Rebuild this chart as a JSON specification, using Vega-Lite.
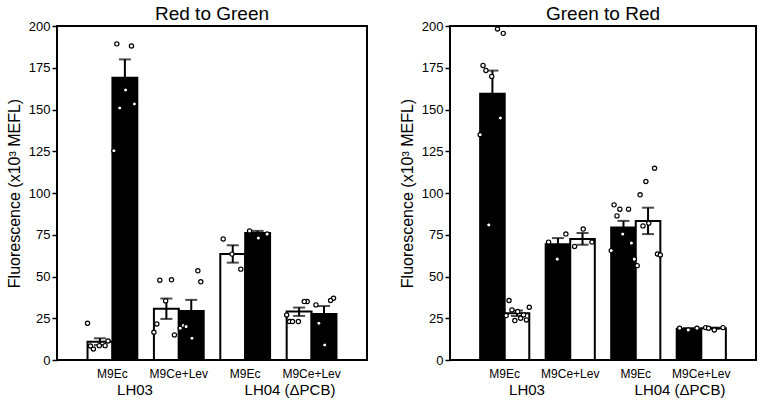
{
  "$schema": "https://vega.github.io/schema/vega-lite/v6.json",
  "padding": {"left": 5, "top": 4, "right": 4, "bottom": 0},
  "background": "white",
  "config": {
    "font": "Liberation Sans",
    "view": {"stroke": "black", "strokeWidth": 2},
    "axis": {"labelColor": "black", "titleColor": "black", "grid": false},
    "title": {"fontSize": 19, "fontWeight": "normal", "color": "black", "offset": -4}
  },
  "datasets": {
    "bars": [
      {"panel": "Red to Green", "group": "LH03|M9Ec", "strain": "LH03", "light": "Red", "mean": 11, "lo": 9, "hi": 13},
      {"panel": "Red to Green", "group": "LH03|M9Ec", "strain": "LH03", "light": "Green", "mean": 169, "lo": 158, "hi": 180},
      {"panel": "Red to Green", "group": "LH03|M9Ce+Lev", "strain": "LH03", "light": "Red", "mean": 30.7, "lo": 24.6, "hi": 36.8},
      {"panel": "Red to Green", "group": "LH03|M9Ce+Lev", "strain": "LH03", "light": "Green", "mean": 29.4, "lo": 23, "hi": 36},
      {"panel": "Red to Green", "group": "LH04|M9Ec", "strain": "LH04 (ΔPCB)", "light": "Red", "mean": 63.5, "lo": 58.3, "hi": 68.7},
      {"panel": "Red to Green", "group": "LH04|M9Ec", "strain": "LH04 (ΔPCB)", "light": "Green", "mean": 76, "lo": 74.7, "hi": 77.3},
      {"panel": "Red to Green", "group": "LH04|M9Ce+Lev", "strain": "LH04 (ΔPCB)", "light": "Red", "mean": 29, "lo": 26.4, "hi": 31.4},
      {"panel": "Red to Green", "group": "LH04|M9Ce+Lev", "strain": "LH04 (ΔPCB)", "light": "Green", "mean": 27.6, "lo": 23, "hi": 32.3},
      {"panel": "Green to Red", "group": "LH03|M9Ec", "strain": "LH03", "light": "Green", "mean": 159.5, "lo": 145.7, "hi": 173.3},
      {"panel": "Green to Red", "group": "LH03|M9Ec", "strain": "LH03", "light": "Red", "mean": 28, "lo": 26.4, "hi": 29.6},
      {"panel": "Green to Red", "group": "LH03|M9Ce+Lev", "strain": "LH03", "light": "Green", "mean": 69.3, "lo": 65.6, "hi": 73},
      {"panel": "Green to Red", "group": "LH03|M9Ce+Lev", "strain": "LH03", "light": "Red", "mean": 72.5, "lo": 69, "hi": 76},
      {"panel": "Green to Red", "group": "LH04|M9Ec", "strain": "LH04 (ΔPCB)", "light": "Green", "mean": 79.3, "lo": 75.3, "hi": 83.3},
      {"panel": "Green to Red", "group": "LH04|M9Ec", "strain": "LH04 (ΔPCB)", "light": "Red", "mean": 83.3, "lo": 75.4, "hi": 91.2},
      {"panel": "Green to Red", "group": "LH04|M9Ce+Lev", "strain": "LH04 (ΔPCB)", "light": "Green", "mean": 18.7, "lo": 18.3, "hi": 19.1},
      {"panel": "Green to Red", "group": "LH04|M9Ce+Lev", "strain": "LH04 (ΔPCB)", "light": "Red", "mean": 19, "lo": 18.6, "hi": 19.4}
    ],
    "points": [
      {"panel": "Red to Green", "group": "LH03|M9Ec", "sample": "Red-1", "value": 8.6},
      {"panel": "Red to Green", "group": "LH03|M9Ec", "sample": "Red-2", "value": 8.4},
      {"panel": "Red to Green", "group": "LH03|M9Ec", "sample": "Red-3", "value": 11.4},
      {"panel": "Red to Green", "group": "LH03|M9Ec", "sample": "Red-4", "value": 6.6},
      {"panel": "Red to Green", "group": "LH03|M9Ec", "sample": "Red-5", "value": 8.6},
      {"panel": "Red to Green", "group": "LH03|M9Ec", "sample": "Red-6", "value": 22},
      {"panel": "Red to Green", "group": "LH03|M9Ec", "sample": "Green-1", "value": 161.7},
      {"panel": "Red to Green", "group": "LH03|M9Ec", "sample": "Green-2", "value": 189.3},
      {"panel": "Red to Green", "group": "LH03|M9Ec", "sample": "Green-3", "value": 153.3},
      {"panel": "Red to Green", "group": "LH03|M9Ec", "sample": "Green-4", "value": 150.9},
      {"panel": "Red to Green", "group": "LH03|M9Ec", "sample": "Green-5", "value": 188},
      {"panel": "Red to Green", "group": "LH03|M9Ec", "sample": "Green-6", "value": 125.3},
      {"panel": "Red to Green", "group": "LH03|M9Ce+Lev", "sample": "Red-1", "value": 35.4},
      {"panel": "Red to Green", "group": "LH03|M9Ce+Lev", "sample": "Red-2", "value": 21.6},
      {"panel": "Red to Green", "group": "LH03|M9Ce+Lev", "sample": "Red-3", "value": 15},
      {"panel": "Red to Green", "group": "LH03|M9Ce+Lev", "sample": "Red-4", "value": 47.8},
      {"panel": "Red to Green", "group": "LH03|M9Ce+Lev", "sample": "Red-5", "value": 48},
      {"panel": "Red to Green", "group": "LH03|M9Ce+Lev", "sample": "Red-6", "value": 16.6},
      {"panel": "Red to Green", "group": "LH03|M9Ce+Lev", "sample": "Green-1", "value": 13},
      {"panel": "Red to Green", "group": "LH03|M9Ce+Lev", "sample": "Green-2", "value": 20.6},
      {"panel": "Red to Green", "group": "LH03|M9Ce+Lev", "sample": "Green-3", "value": 46.8},
      {"panel": "Red to Green", "group": "LH03|M9Ce+Lev", "sample": "Green-4", "value": 20},
      {"panel": "Red to Green", "group": "LH03|M9Ce+Lev", "sample": "Green-5", "value": 53.4},
      {"panel": "Red to Green", "group": "LH03|M9Ce+Lev", "sample": "Green-6", "value": 19},
      {"panel": "Red to Green", "group": "LH04|M9Ec", "sample": "Red-1", "value": 63.4},
      {"panel": "Red to Green", "group": "LH04|M9Ec", "sample": "Red-2", "value": 72.5},
      {"panel": "Red to Green", "group": "LH04|M9Ec", "sample": "Red-3", "value": 54.4},
      {"panel": "Red to Green", "group": "LH04|M9Ec", "sample": "Green-1", "value": 73},
      {"panel": "Red to Green", "group": "LH04|M9Ec", "sample": "Green-2", "value": 77.3},
      {"panel": "Red to Green", "group": "LH04|M9Ec", "sample": "Green-3", "value": 75.4},
      {"panel": "Red to Green", "group": "LH04|M9Ce+Lev", "sample": "Red-1", "value": 23},
      {"panel": "Red to Green", "group": "LH04|M9Ce+Lev", "sample": "Red-2", "value": 23},
      {"panel": "Red to Green", "group": "LH04|M9Ce+Lev", "sample": "Red-3", "value": 35},
      {"panel": "Red to Green", "group": "LH04|M9Ce+Lev", "sample": "Red-4", "value": 23},
      {"panel": "Red to Green", "group": "LH04|M9Ce+Lev", "sample": "Red-5", "value": 35},
      {"panel": "Red to Green", "group": "LH04|M9Ce+Lev", "sample": "Red-6", "value": 27},
      {"panel": "Red to Green", "group": "LH04|M9Ce+Lev", "sample": "Green-1", "value": 9},
      {"panel": "Red to Green", "group": "LH04|M9Ce+Lev", "sample": "Green-2", "value": 33},
      {"panel": "Red to Green", "group": "LH04|M9Ce+Lev", "sample": "Green-3", "value": 37},
      {"panel": "Red to Green", "group": "LH04|M9Ce+Lev", "sample": "Green-4", "value": 22},
      {"panel": "Red to Green", "group": "LH04|M9Ce+Lev", "sample": "Green-5", "value": 35.6},
      {"panel": "Green to Red", "group": "LH03|M9Ec", "sample": "Green-1", "value": 169.8},
      {"panel": "Green to Red", "group": "LH03|M9Ec", "sample": "Green-2", "value": 176.4},
      {"panel": "Green to Red", "group": "LH03|M9Ec", "sample": "Green-3", "value": 144.9},
      {"panel": "Green to Red", "group": "LH03|M9Ec", "sample": "Green-4", "value": 173.4},
      {"panel": "Green to Red", "group": "LH03|M9Ec", "sample": "Green-5", "value": 198.2},
      {"panel": "Green to Red", "group": "LH03|M9Ec", "sample": "Green-6", "value": 134.9},
      {"panel": "Green to Red", "group": "LH03|M9Ec", "sample": "Green-7", "value": 195.6},
      {"panel": "Green to Red", "group": "LH03|M9Ec", "sample": "Green-8", "value": 80.9},
      {"panel": "Green to Red", "group": "LH03|M9Ec", "sample": "Red-1", "value": 29},
      {"panel": "Green to Red", "group": "LH03|M9Ec", "sample": "Red-2", "value": 35.6},
      {"panel": "Green to Red", "group": "LH03|M9Ec", "sample": "Red-3", "value": 24},
      {"panel": "Green to Red", "group": "LH03|M9Ec", "sample": "Red-4", "value": 30},
      {"panel": "Green to Red", "group": "LH03|M9Ec", "sample": "Red-5", "value": 27},
      {"panel": "Green to Red", "group": "LH03|M9Ec", "sample": "Red-6", "value": 26.6},
      {"panel": "Green to Red", "group": "LH03|M9Ec", "sample": "Red-7", "value": 31.6},
      {"panel": "Green to Red", "group": "LH03|M9Ec", "sample": "Red-8", "value": 23.6},
      {"panel": "Green to Red", "group": "LH03|M9Ec", "sample": "Red-9", "value": 25},
      {"panel": "Green to Red", "group": "LH03|M9Ce+Lev", "sample": "Green-1", "value": 60.4},
      {"panel": "Green to Red", "group": "LH03|M9Ce+Lev", "sample": "Green-2", "value": 70.6},
      {"panel": "Green to Red", "group": "LH03|M9Ce+Lev", "sample": "Green-3", "value": 75.4},
      {"panel": "Green to Red", "group": "LH03|M9Ce+Lev", "sample": "Red-1", "value": 78.4},
      {"panel": "Green to Red", "group": "LH03|M9Ce+Lev", "sample": "Red-2", "value": 68},
      {"panel": "Green to Red", "group": "LH03|M9Ce+Lev", "sample": "Red-3", "value": 70.6},
      {"panel": "Green to Red", "group": "LH04|M9Ec", "sample": "Green-1", "value": 75.4},
      {"panel": "Green to Red", "group": "LH04|M9Ec", "sample": "Green-2", "value": 92.9},
      {"panel": "Green to Red", "group": "LH04|M9Ec", "sample": "Green-3", "value": 70},
      {"panel": "Green to Red", "group": "LH04|M9Ec", "sample": "Green-4", "value": 86.3},
      {"panel": "Green to Red", "group": "LH04|M9Ec", "sample": "Green-5", "value": 90.3},
      {"panel": "Green to Red", "group": "LH04|M9Ec", "sample": "Green-6", "value": 65.5},
      {"panel": "Green to Red", "group": "LH04|M9Ec", "sample": "Green-7", "value": 60.4},
      {"panel": "Green to Red", "group": "LH04|M9Ec", "sample": "Green-8", "value": 90.3},
      {"panel": "Green to Red", "group": "LH04|M9Ec", "sample": "Red-1", "value": 81.9},
      {"panel": "Green to Red", "group": "LH04|M9Ec", "sample": "Red-2", "value": 98.9},
      {"panel": "Green to Red", "group": "LH04|M9Ec", "sample": "Red-3", "value": 63.5},
      {"panel": "Green to Red", "group": "LH04|M9Ec", "sample": "Red-4", "value": 80.3},
      {"panel": "Green to Red", "group": "LH04|M9Ec", "sample": "Red-5", "value": 114.8},
      {"panel": "Green to Red", "group": "LH04|M9Ec", "sample": "Red-6", "value": 56.5},
      {"panel": "Green to Red", "group": "LH04|M9Ec", "sample": "Red-7", "value": 62.9},
      {"panel": "Green to Red", "group": "LH04|M9Ec", "sample": "Red-8", "value": 106.9},
      {"panel": "Green to Red", "group": "LH04|M9Ce+Lev", "sample": "Green-1", "value": 18},
      {"panel": "Green to Red", "group": "LH04|M9Ce+Lev", "sample": "Green-2", "value": 19},
      {"panel": "Green to Red", "group": "LH04|M9Ce+Lev", "sample": "Green-3", "value": 19},
      {"panel": "Green to Red", "group": "LH04|M9Ce+Lev", "sample": "Red-1", "value": 18},
      {"panel": "Green to Red", "group": "LH04|M9Ce+Lev", "sample": "Red-2", "value": 19.4},
      {"panel": "Green to Red", "group": "LH04|M9Ce+Lev", "sample": "Red-3", "value": 19.4},
      {"panel": "Green to Red", "group": "LH04|M9Ce+Lev", "sample": "Red-4", "value": 19}
    ]
  },
  "spacing": 30,
  "hconcat": [
    {
      "title": "Red to Green",
      "width": 310,
      "height": 334,
      "layer": [
        {
          "layer": [
            {
              "data": {"name": "bars"},
              "transform": [{"filter": "datum.panel === 'Red to Green'"}],
              "mark": {"type": "bar", "stroke": "black", "strokeWidth": 2},
              "encoding": {
                "x": {"field": "group", "type": "nominal", "scale": {"domain": ["LH03|M9Ec", "LH03|M9Ce+Lev", "LH04|M9Ec", "LH04|M9Ce+Lev"], "paddingInner": 0.25, "paddingOuter": 0.46},
                  "axis": {"title": null, "labelExpr": "split(datum.value, '|')[1]", "ticks": false, "domain": false, "labelAngle": 0, "labelFontSize": 12, "labelPadding": 8}},
                "xOffset": {"field": "light", "type": "nominal", "scale": {"domain": ["Red", "Green"], "paddingInner": 0, "paddingOuter": 0}},
                "y": {"field": "mean", "type": "quantitative", "scale": {"domain": [0, 200], "nice": false},
                  "axis": {"title": "Fluorescence (x10³ MEFL)", "titleFontSize": 16, "titleFontWeight": "normal", "titlePadding": 6, "values": [0, 25, 50, 75, 100, 125, 150, 175, 200], "domain": false, "tickSize": 5, "tickWidth": 1.5, "tickColor": "black", "labelFontSize": 13, "labelPadding": 2}},
                "fill": {"field": "light", "type": "nominal", "scale": {"domain": ["Red", "Green"], "range": ["white", "black"]}, "legend": null}
              }
            },
            {
              "data": {"name": "bars"},
              "transform": [{"filter": "datum.panel === 'Red to Green'"}],
              "mark": {"type": "rule", "color": "black", "strokeWidth": 2},
              "encoding": {
                "x": {"field": "group", "type": "nominal"},
                "xOffset": {"field": "light", "type": "nominal", "scale": {"domain": ["Red", "Green"], "paddingInner": 0, "paddingOuter": 0}},
                "y": {"field": "lo", "type": "quantitative"},
                "y2": {"field": "hi"}
              }
            },
            {
              "data": {"name": "bars"},
              "transform": [{"filter": "datum.panel === 'Red to Green'"}],
              "mark": {"type": "tick", "color": "black", "thickness": 2, "size": 12},
              "encoding": {
                "x": {"field": "group", "type": "nominal"},
                "xOffset": {"field": "light", "type": "nominal", "scale": {"domain": ["Red", "Green"], "paddingInner": 0, "paddingOuter": 0}},
                "y": {"field": "hi", "type": "quantitative"}
              }
            },
            {
              "data": {"name": "bars"},
              "transform": [{"filter": "datum.panel === 'Red to Green'"}],
              "mark": {"type": "tick", "color": "black", "thickness": 2, "size": 12},
              "encoding": {
                "x": {"field": "group", "type": "nominal"},
                "xOffset": {"field": "light", "type": "nominal", "scale": {"domain": ["Red", "Green"], "paddingInner": 0, "paddingOuter": 0}},
                "y": {"field": "lo", "type": "quantitative"}
              }
            },
            {
              "data": {"name": "points"},
              "transform": [{"filter": "datum.panel === 'Red to Green'"}],
              "mark": {"type": "point", "shape": "circle", "filled": true, "fill": "white", "stroke": "black", "strokeWidth": 1.2, "size": 18, "opacity": 1},
              "encoding": {
                "x": {"field": "group", "type": "nominal"},
                "xOffset": {"field": "sample", "type": "nominal", "scale": {"domain": ["Red-6", "Red-2", "Red-4", "Red-8", "Red-1", "Red-9", "Red-5", "Red-3", "Red-7", "Green-6", "Green-2", "Green-4", "Green-8", "Green-1", "Green-9", "Green-5", "Green-3", "Green-7"], "paddingInner": 0, "paddingOuter": 0}},
                "y": {"field": "value", "type": "quantitative"}
              }
            }
          ],
          "resolve": {"scale": {"xOffset": "independent"}}
        },
        {
          "data": {"name": "bars"},
          "transform": [{"filter": "datum.panel === 'Red to Green'"}],
          "mark": {"type": "point", "opacity": 0, "size": 0},
          "encoding": {
            "x": {"field": "strain", "type": "nominal", "scale": {"domain": ["LH03", "LH04 (ΔPCB)"], "paddingInner": 0, "paddingOuter": 0.167},
              "axis": {"orient": "bottom", "title": null, "ticks": false, "domain": false, "labelAngle": 0, "labelFontSize": 15, "labelPadding": 22}}
          }
        }
      ],
      "resolve": {"scale": {"x": "independent"}, "axis": {"x": "independent"}}
    },
    {
      "title": "Green to Red",
      "width": 306,
      "height": 334,
      "layer": [
        {
          "layer": [
            {
              "data": {"name": "bars"},
              "transform": [{"filter": "datum.panel === 'Green to Red'"}],
              "mark": {"type": "bar", "stroke": "black", "strokeWidth": 2},
              "encoding": {
                "x": {"field": "group", "type": "nominal", "scale": {"domain": ["LH03|M9Ec", "LH03|M9Ce+Lev", "LH04|M9Ec", "LH04|M9Ce+Lev"], "paddingInner": 0.25, "paddingOuter": 0.46},
                  "axis": {"title": null, "labelExpr": "split(datum.value, '|')[1]", "ticks": false, "domain": false, "labelAngle": 0, "labelFontSize": 12, "labelPadding": 8}},
                "xOffset": {"field": "light", "type": "nominal", "scale": {"domain": ["Green", "Red"], "paddingInner": 0, "paddingOuter": 0}},
                "y": {"field": "mean", "type": "quantitative", "scale": {"domain": [0, 200], "nice": false},
                  "axis": {"title": "Fluorescence (x10³ MEFL)", "titleFontSize": 16, "titleFontWeight": "normal", "titlePadding": 6, "values": [0, 25, 50, 75, 100, 125, 150, 175, 200], "domain": false, "tickSize": 5, "tickWidth": 1.5, "tickColor": "black", "labelFontSize": 13, "labelPadding": 2}},
                "fill": {"field": "light", "type": "nominal", "scale": {"domain": ["Red", "Green"], "range": ["white", "black"]}, "legend": null}
              }
            },
            {
              "data": {"name": "bars"},
              "transform": [{"filter": "datum.panel === 'Green to Red'"}],
              "mark": {"type": "rule", "color": "black", "strokeWidth": 2},
              "encoding": {
                "x": {"field": "group", "type": "nominal"},
                "xOffset": {"field": "light", "type": "nominal", "scale": {"domain": ["Green", "Red"], "paddingInner": 0, "paddingOuter": 0}},
                "y": {"field": "lo", "type": "quantitative"},
                "y2": {"field": "hi"}
              }
            },
            {
              "data": {"name": "bars"},
              "transform": [{"filter": "datum.panel === 'Green to Red'"}],
              "mark": {"type": "tick", "color": "black", "thickness": 2, "size": 12},
              "encoding": {
                "x": {"field": "group", "type": "nominal"},
                "xOffset": {"field": "light", "type": "nominal", "scale": {"domain": ["Green", "Red"], "paddingInner": 0, "paddingOuter": 0}},
                "y": {"field": "hi", "type": "quantitative"}
              }
            },
            {
              "data": {"name": "bars"},
              "transform": [{"filter": "datum.panel === 'Green to Red'"}],
              "mark": {"type": "tick", "color": "black", "thickness": 2, "size": 12},
              "encoding": {
                "x": {"field": "group", "type": "nominal"},
                "xOffset": {"field": "light", "type": "nominal", "scale": {"domain": ["Green", "Red"], "paddingInner": 0, "paddingOuter": 0}},
                "y": {"field": "lo", "type": "quantitative"}
              }
            },
            {
              "data": {"name": "points"},
              "transform": [{"filter": "datum.panel === 'Green to Red'"}],
              "mark": {"type": "point", "shape": "circle", "filled": true, "fill": "white", "stroke": "black", "strokeWidth": 1.2, "size": 18, "opacity": 1},
              "encoding": {
                "x": {"field": "group", "type": "nominal"},
                "xOffset": {"field": "sample", "type": "nominal", "scale": {"domain": ["Green-6", "Green-2", "Green-4", "Green-8", "Green-1", "Green-9", "Green-5", "Green-3", "Green-7", "Red-6", "Red-2", "Red-4", "Red-8", "Red-1", "Red-9", "Red-5", "Red-3", "Red-7"], "paddingInner": 0, "paddingOuter": 0}},
                "y": {"field": "value", "type": "quantitative"}
              }
            }
          ],
          "resolve": {"scale": {"xOffset": "independent"}}
        },
        {
          "data": {"name": "bars"},
          "transform": [{"filter": "datum.panel === 'Green to Red'"}],
          "mark": {"type": "point", "opacity": 0, "size": 0},
          "encoding": {
            "x": {"field": "strain", "type": "nominal", "scale": {"domain": ["LH03", "LH04 (ΔPCB)"], "paddingInner": 0, "paddingOuter": 0.167},
              "axis": {"orient": "bottom", "title": null, "ticks": false, "domain": false, "labelAngle": 0, "labelFontSize": 15, "labelPadding": 22}}
          }
        }
      ],
      "resolve": {"scale": {"x": "independent"}, "axis": {"x": "independent"}}
    }
  ]
}
